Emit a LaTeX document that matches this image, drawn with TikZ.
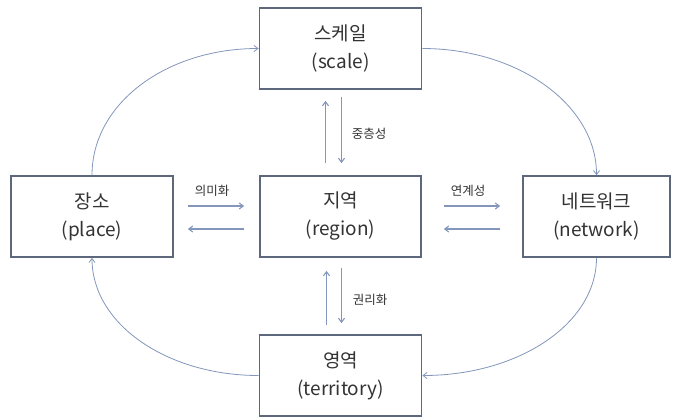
\documentclass[tikz,border=0pt]{standalone}
\usepackage{fontspec}
\setmainfont{Noto Sans CJK KR}
\usetikzlibrary{arrows.meta}
\definecolor{boxc}{HTML}{5E687C}
\definecolor{arrc}{HTML}{8397BC}
\definecolor{txtc}{HTML}{333333}
\tikzset{
  box/.style={draw=boxc, line width=1.7pt, fill=white, minimum height=81pt,
    inner sep=0pt, align=center, text=txtc, font=\fontsize{19}{28}\selectfont},
  arr/.style={draw=arrc, line width=1.1pt, -{Straight Barb[length=4pt,width=6pt]}},
  arc/.style={draw=arrc, line width=0.8pt, -{Straight Barb[length=4pt,width=6pt]}},
  lbl/.style={text=txtc, font=\fontsize{12.5}{14}\selectfont, inner sep=0pt}
}
\begin{document}
\begin{tikzpicture}[x=1pt,y=-1pt]
\useasboundingbox[fill=white] (0,0) rectangle (674,416);
\node[box, minimum width=162pt] (scale) at (340.5,48.5) {스케일\\(scale)};
\node[box, minimum width=162pt] (place) at (92,216.5) {장소\\(place)};
\node[box, minimum width=161pt] (region) at (340.5,216.5) {지역\\(region)};
\node[box, minimum width=147pt] (network) at (596.5,216.5) {네트워크\\(network)};
\node[box, minimum width=162pt] (territory) at (340.5,375.5) {영역\\(territory)};
% curved arrows
\draw[arc] (place.north) .. controls +(0,-72) and +(-92,0) .. (scale.west);
\draw[arc] (scale.east) .. controls +(96,0) and +(0,-70) .. (network.north);
\draw[arc] (network.south) .. controls +(0,66) and +(96,0) .. (territory.east);
\draw[arc] (territory.west) .. controls +(-92,0) and +(0,66) .. (place.south);
% scale - region
\draw[arr, shorten <=12pt, shorten >=11pt] ([xshift=-15pt]region.north) -- ([xshift=-15pt]scale.south);
\draw[arr, shorten <=7pt, shorten >=12pt] ([xshift=1pt]scale.south) -- ([xshift=1pt]region.north);
\node[lbl] (l1) at (369,134) {중층성};
% region - territory
\draw[arr, shorten <=9pt, shorten >=13pt] ([xshift=-14pt]territory.north) -- ([xshift=-14pt]region.south);
\draw[arr, shorten <=10pt, shorten >=11pt] ([xshift=1pt]region.south) -- ([xshift=1pt]territory.north);
\node[lbl] (l2) at (370,300) {권리화};
% place - region
\draw[arr, shorten <=14pt, shorten >=15pt] ([yshift=10.5pt]place.east) -- ([yshift=10.5pt]region.west);
\draw[arr, shorten <=15pt, shorten >=14pt] ([yshift=-12.5pt]region.west) -- ([yshift=-12.5pt]place.east);
\node[lbl] (l3) at (212,191) {의미화};
% region - network
\draw[arr, shorten <=22pt, shorten >=22pt] ([yshift=10.5pt]region.east) -- ([yshift=10.5pt]network.west);
\draw[arr, shorten <=22pt, shorten >=22pt] ([yshift=-12.5pt]network.west) -- ([yshift=-12.5pt]region.east);
\node[lbl] (l4) at (468,191) {연계성};
\end{tikzpicture}
\end{document}
